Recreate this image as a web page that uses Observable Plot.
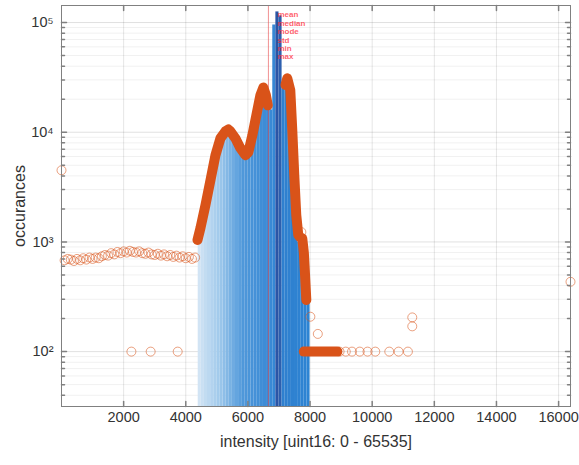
<!DOCTYPE html>
<html><head><meta charset="utf-8">
<script src="https://cdn.jsdelivr.net/npm/d3@7"></script>
<script src="https://cdn.jsdelivr.net/npm/@observablehq/plot@0.6"></script>
<style>body{margin:0;background:#fff;}</style>
</head><body><div id="chart"></div>
<script>
// ---- data ----
const xTicks = [2000, 4000, 6000, 8000, 10000, 12000, 14000, 16000];
const yTicks = [1e2, 1e3, 1e4, 1e5];
const xDomain = [0, 16383];
const yDomain = [31.6, 143000];

// blue histogram bars (bin start, count)
const binStarts = [4400,4500,4600,4700,4800,4900,5000,5100,5200,5300,5400,5500,5600,5700,5800,5900,6000,6100,6200,6300,6400,6500,6600,6700,6800,6900,7000,7100,7200,7300,7400,7500,7600,7700,7800,7900];
const binCounts = [1000,1300,1900,2800,3700,5200,6800,8500,9500,9800,9500,9000,8000,7000,6200,5800,6000,7500,10000,13000,18000,22000,20000,16000,95000,125000,115000,25000,24000,20000,8000,3000,1000,600,400,300];
const binWidth = 100;

// orange dense curve segments
const curveAx = [4377,4473,4634,4795,4955,5116,5276,5370,5437,5597,5758,5919,6015,6144,6272,6401,6497,6580,6640];
const curveAy = [1042,1340,2170,3660,6170,8810,10200,10600,10200,8800,7160,6170,6580,9400,14280,21700,25600,21700,17600];
const curveBx = [7210,7268,7364,7428,7492,7556,7620,7685,7749,7800,7830,7860,7880];
const curveBy = [27000,31000,24100,10400,4060,1760,1160,1100,1080,800,560,380,296];
const curveCx = [7800, 8880];
const curveCy = [100, 100];

// orange sparse circles
const flatX = [100,200,300,400,500,600,700,800,900,1000,1100,1200,1300,1400,1500,1600,1700,1800,1900,2000,2100,2200,2300,2400,2500,2600,2700,2800,2900,3000,3100,3200,3300,3400,3500,3600,3700,3800,3900,4000,4100,4200,4300];
const flatY = [680,700,690,670,700,680,710,690,720,700,720,710,740,760,750,790,770,810,790,820,800,830,810,800,820,790,780,800,770,760,780,750,770,740,760,730,750,720,740,710,730,700,720];
const otherX = [0, 2250, 2870, 3740, 7720, 8010, 8250, 8950, 9150, 9350, 9600, 9850, 10100, 10550, 10850, 11150, 11290, 11290, 16383];
const otherY = [4500, 100, 100, 100, 1230, 208, 145, 100, 100, 100, 100, 100, 100, 100, 100, 100, 205, 170, 433];

const markerLine = 6660;
const markerText = "mean\nmedian\nmode\nstd\nmin\nmax";

// ---- build tables ----
const bars = binStarts.map((x, i) => ({x1: x, x2: x + binWidth, y: binCounts[i], c: x}));
const curve = [
  ...curveAx.map((x, i) => ({x, y: curveAy[i], seg: "a"})),
  ...curveBx.map((x, i) => ({x, y: curveBy[i], seg: "b"})),
  ...curveCx.map((x, i) => ({x, y: curveCy[i], seg: "c"}))
];
const dots = [
  ...flatX.map((x, i) => ({x, y: flatY[i]})),
  ...otherX.map((x, i) => ({x, y: otherY[i]}))
];
const yMinor = [];
for (const e of [1, 2, 3, 4, 5]) for (const m of [2,3,4,5,6,7,8,9]) {
  const v = m * Math.pow(10, e);
  if (v > yDomain[0] && v < yDomain[1]) yMinor.push(v);
}
const sup = {"2": "\u00B2", "3": "\u00B3", "4": "\u2074", "5": "\u2075"};
const tickShape = {draw(ctx, l) { ctx.moveTo(0, 0); ctx.lineTo(0, -l); }};
const axisCol = "#808080";

const chart = Plot.plot({
  width: 579,
  height: 465,
  marginLeft: 61,
  marginRight: 9,
  marginTop: 5,
  marginBottom: 59,
  style: {fontFamily: "'Liberation Sans', Arial, sans-serif", fontSize: "14.5px", color: "#333", background: "#fff"},
  x: {domain: xDomain},
  y: {type: "log", domain: yDomain},
  color: {type: "linear", domain: [4400, 5000, 5800, 6800, 6900, 7000, 7100, 8000],
          range: ["#d2e4f4", "#a3cbec", "#4f98da", "#3687d4", "#2b55a6", "#2d5fae", "#2f80cf", "#2d84d3"]},
  marks: [
    Plot.gridX(xTicks, {stroke: "#000", strokeOpacity: 0.1}),
    Plot.gridY(yMinor, {stroke: "#000", strokeOpacity: 0.06}),
    Plot.gridY(yTicks, {stroke: "#000", strokeOpacity: 0.12}),
    Plot.rect(bars, {x1: "x1", x2: "x2", y1: yDomain[0], y2: "y", fill: "c", clip: true}),
    Plot.ruleX([markerLine], {stroke: "#e8474a", strokeOpacity: 0.6, strokeWidth: 1}),
    Plot.line(curve, {x: "x", y: "y", z: "seg", stroke: "#D95319", strokeWidth: 10, strokeLinecap: "round", strokeLinejoin: "round"}),
    Plot.dot(dots, {x: "x", y: "y", r: 4.5, stroke: "#D95319", strokeOpacity: 0.55, strokeWidth: 1, fill: "none"}),
    Plot.text([markerText], {x: 6950, frameAnchor: "top", dy: 6, textAnchor: "start", lineAnchor: "top", fontSize: 8, fontWeight: "bold", lineHeight: 1.05, fill: "#ff2a3a", fillOpacity: 0.75}),
    Plot.frame({stroke: axisCol}),
    // inward ticks
    Plot.vector(xTicks, {x: d => d, frameAnchor: "bottom", anchor: "start", length: 5, shape: tickShape, stroke: axisCol}),
    Plot.vector(xTicks, {x: d => d, frameAnchor: "top", anchor: "start", length: 5, rotate: 180, shape: tickShape, stroke: axisCol}),
    Plot.vector(yTicks, {y: d => d, frameAnchor: "left", anchor: "start", length: 5, rotate: 90, shape: tickShape, stroke: axisCol}),
    Plot.vector(yTicks, {y: d => d, frameAnchor: "right", anchor: "start", length: 5, rotate: -90, shape: tickShape, stroke: axisCol}),
    Plot.vector(yMinor, {y: d => d, frameAnchor: "left", anchor: "start", length: 3, rotate: 90, shape: tickShape, stroke: axisCol}),
    Plot.vector(yMinor, {y: d => d, frameAnchor: "right", anchor: "start", length: 3, rotate: -90, shape: tickShape, stroke: axisCol}),
    Plot.axisX({ticks: xTicks, tickSize: 0, tickPadding: 5, tickFormat: d => String(d), fill: "#333", label: null}),
    Plot.axisX({ticks: [], label: "intensity [uint16: 0 - 65535]", labelAnchor: "center", labelArrow: "none", labelOffset: 40, fontSize: 16, fill: "#333"}),
    Plot.axisY({ticks: yTicks, tickSize: 0, tickPadding: 8, fill: "#333", label: null,
                tickFormat: d => "10" + sup[String(Math.round(Math.log10(d)))]}),
    Plot.axisY({ticks: [], label: "occurances", labelAnchor: "center", labelArrow: "none", labelOffset: 48, fontSize: 16, fill: "#333"})
  ]
});
document.getElementById("chart").appendChild(chart);
</script>
</body></html>
